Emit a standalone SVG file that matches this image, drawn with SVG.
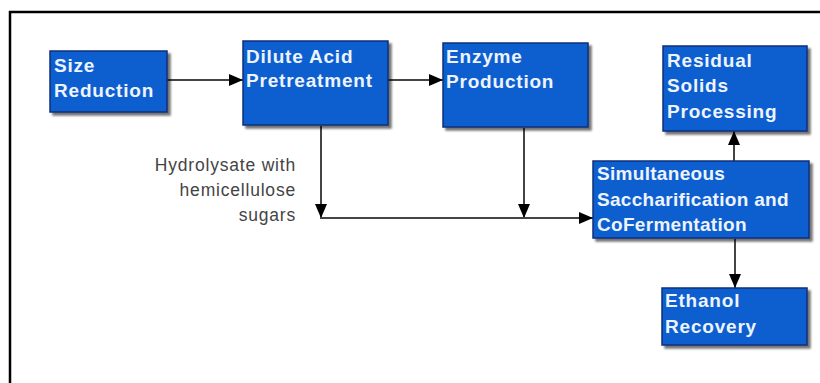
<svg xmlns="http://www.w3.org/2000/svg" width="820" height="383" viewBox="0 0 820 383">
<defs>
<marker id="ah" viewBox="0 0 14 12" refX="14" refY="6" markerWidth="14" markerHeight="12" markerUnits="userSpaceOnUse" orient="auto">
<path d="M0,0 L14,6 L0,12 Z" fill="#000"/>
</marker>
<filter id="sh" x="-5%" y="-5%" width="115%" height="120%">
<feGaussianBlur in="SourceAlpha" stdDeviation="1"/>
<feOffset dx="3" dy="3"/>
<feComponentTransfer><feFuncA type="linear" slope="0.55"/></feComponentTransfer>
<feMerge><feMergeNode/><feMergeNode in="SourceGraphic"/></feMerge>
</filter>
</defs>
<style>
.box{fill:#0b5fcf;stroke:#0a2f78;stroke-width:1.5;filter:url(#sh)}
.t{font-family:"Liberation Sans",Arial,sans-serif;font-weight:bold;font-size:19px;letter-spacing:0.8px;fill:#eef4ff}
.t.n{letter-spacing:0.3px}
.c{fill:none;stroke:#444;stroke-width:2}
.lbl{font-family:"Liberation Sans",Arial,sans-serif;font-size:17.5px;letter-spacing:0.8px;fill:#444;text-anchor:end}
</style>
<rect width="820" height="383" fill="#fff"/>
<path d="M10,383 V12 H820" fill="none" stroke="#000" stroke-width="2.5"/>

<g id="connectors">
<line class="c" x1="167" y1="80" x2="243" y2="80" marker-end="url(#ah)"/>
<line class="c" x1="388" y1="80" x2="443" y2="80" marker-end="url(#ah)"/>
<line class="c" x1="321" y1="126" x2="321" y2="218" marker-end="url(#ah)"/>
<line class="c" x1="524" y1="128" x2="524" y2="218" marker-end="url(#ah)"/>
<line class="c" x1="320" y1="218" x2="593" y2="218" marker-end="url(#ah)"/>
<line class="c" x1="734" y1="161" x2="734" y2="131" marker-end="url(#ah)"/>
<line class="c" x1="735" y1="239" x2="735" y2="288" marker-end="url(#ah)"/>
</g>

<g id="size-reduction">
<rect class="box" x="50" y="51" width="117" height="61"/>
<text class="t" x="54" y="72">Size</text>
<text class="t" x="54" y="97">Reduction</text>
</g>
<g id="dilute-acid">
<rect class="box" x="243" y="41" width="145" height="84"/>
<text class="t" x="246" y="63">Dilute Acid</text>
<text class="t" x="246" y="87">Pretreatment</text>
</g>
<g id="enzyme-production">
<rect class="box" x="443" y="43" width="145" height="84"/>
<text class="t" x="446" y="63">Enzyme</text>
<text class="t" x="446" y="88">Production</text>
</g>
<g id="residual-solids">
<rect class="box" x="663" y="46" width="144" height="85"/>
<text class="t" x="667" y="67">Residual</text>
<text class="t" x="667" y="92">Solids</text>
<text class="t" x="667" y="118">Processing</text>
</g>
<g id="sscf">
<rect class="box" x="593" y="161" width="216" height="77"/>
<text class="t n" x="597" y="180">Simultaneous</text>
<text class="t n" x="597" y="206">Saccharification and</text>
<text class="t n" x="597" y="231">CoFermentation</text>
</g>
<g id="ethanol-recovery">
<rect class="box" x="662" y="288" width="145" height="57"/>
<text class="t" x="665" y="307">Ethanol</text>
<text class="t" x="665" y="333">Recovery</text>
</g>
<g id="label-hydrolysate">
<text class="lbl" x="296" y="171">Hydrolysate with</text>
<text class="lbl" x="296" y="196">hemicellulose</text>
<text class="lbl" x="296" y="221">sugars</text>
</g>
</svg>
